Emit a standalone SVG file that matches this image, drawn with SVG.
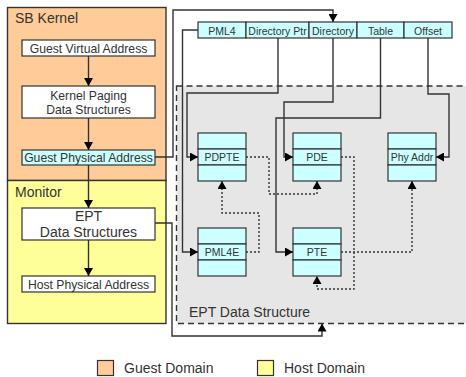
<svg xmlns="http://www.w3.org/2000/svg" width="466" height="377" viewBox="0 0 466 377">
<defs>
<style>
text{font-family:"Liberation Sans",Arial,sans-serif;fill:#333;}
.t12{font-size:12.2px;}
.t14{font-size:14px;}
.t10{font-size:10.5px;}
.mid{text-anchor:middle;}
.box{fill:#fff;stroke:#333;stroke-width:1.2;}
.cy{fill:#ccffff;stroke:#333;stroke-width:1.2;}
.ln{fill:none;stroke:#333;stroke-width:1.4;}
.dot{fill:none;stroke:#333;stroke-width:1.4;stroke-dasharray:2,2;}
</style>
<marker id="ah" markerUnits="userSpaceOnUse" markerWidth="9" markerHeight="9" refX="8" refY="4.5" orient="auto">
<path d="M0,0 L8,4.5 L0,9 z" fill="#000"/>
</marker>
</defs>

<g id="ept-region">
<rect x="176.5" y="86" width="300" height="237.5" fill="#e6e6e6" stroke="#333" stroke-width="1.4" stroke-dasharray="6,4"/>
<text class="t14" x="189" y="317">EPT Data Structure</text>
</g>

<g id="sb-kernel">
<rect x="7.5" y="7.5" width="158.5" height="173" fill="#ffcc99" stroke="#333" stroke-width="1.4"/>
<text class="t14" x="15" y="22.5">SB Kernel</text>
</g>
<g id="monitor">
<rect x="7.5" y="180.5" width="158.5" height="143" fill="#ffff99" stroke="#333" stroke-width="1.4"/>
<text class="t14" x="15" y="197">Monitor</text>
</g>

<g id="gva">
<rect class="box" x="22" y="40" width="133" height="16"/>
<text class="t12 mid" x="88.5" y="52.5">Guest Virtual Address</text>
</g>
<g id="kpds">
<rect class="box" x="22" y="86" width="133" height="32"/>
<text class="t12 mid" x="88.5" y="100">Kernel Paging</text>
<text class="t12 mid" x="88.5" y="113.5">Data Structures</text>
</g>
<g id="gpa">
<rect class="cy" x="22" y="150" width="133" height="15"/>
<text class="t12 mid" x="88.5" y="161.8">Guest Physical Address</text>
</g>
<g id="eptds">
<rect class="box" x="22" y="208" width="133" height="32"/>
<text class="t14 mid" x="88.5" y="221">EPT</text>
<text class="t14 mid" x="88.5" y="236.5">Data Structures</text>
</g>
<g id="hpa">
<rect class="box" x="22" y="276" width="133" height="16"/>
<text class="t12 mid" x="88.5" y="288.5">Host Physical Address</text>
</g>

<g id="address-bar">
<rect class="cy" x="198" y="22" width="48" height="16"/>
<text class="t10 mid" x="222" y="34.5">PML4</text>
<rect class="cy" x="246" y="22" width="63" height="16"/>
<text class="t10 mid" x="277.5" y="34.5">Directory Ptr</text>
<rect class="cy" x="309" y="22" width="48" height="16"/>
<text class="t10 mid" x="333" y="34.5">Directory</text>
<rect class="cy" x="357" y="22" width="47" height="16"/>
<text class="t10 mid" x="380.5" y="34.5">Table</text>
<rect class="cy" x="404" y="22" width="48" height="16"/>
<text class="t10 mid" x="428" y="34.5">Offset</text>
</g>

<g id="pdpte">
<rect class="cy" x="198" y="133" width="48" height="16"/>
<rect class="cy" x="198" y="149" width="48" height="16"/>
<rect class="cy" x="198" y="165" width="48" height="16"/>
<text class="t10 mid" x="222" y="161">PDPTE</text>
</g>
<g id="pde">
<rect class="cy" x="293" y="133" width="48" height="16"/>
<rect class="cy" x="293" y="149" width="48" height="16"/>
<rect class="cy" x="293" y="165" width="48" height="16"/>
<text class="t10 mid" x="317" y="161">PDE</text>
</g>
<g id="phyaddr">
<rect class="cy" x="388" y="133" width="48" height="16"/>
<rect class="cy" x="388" y="149" width="48" height="16"/>
<rect class="cy" x="388" y="165" width="48" height="16"/>
<text class="t10 mid" x="412" y="161">Phy Addr</text>
</g>
<g id="pml4e">
<rect class="cy" x="198" y="228" width="48" height="16"/>
<rect class="cy" x="198" y="244" width="48" height="16"/>
<rect class="cy" x="198" y="260" width="48" height="16"/>
<text class="t10 mid" x="222" y="256">PML4E</text>
</g>
<g id="pte">
<rect class="cy" x="293" y="228" width="48" height="16"/>
<rect class="cy" x="293" y="244" width="48" height="16"/>
<rect class="cy" x="293" y="260" width="48" height="16"/>
<text class="t10 mid" x="317" y="256">PTE</text>
</g>

<g id="connectors">
<path class="ln" d="M88.5,56 V86" marker-end="url(#ah)"/>
<path class="ln" d="M88.5,118 V150" marker-end="url(#ah)"/>
<path class="ln" d="M88.5,165 V208" marker-end="url(#ah)"/>
<path class="ln" d="M88.5,240 V276" marker-end="url(#ah)"/>
<path class="ln" d="M155,157 H173 V10 H333 V22" marker-end="url(#ah)"/>
<path class="ln" d="M155,223 H172 V336 H322 V323.5" marker-end="url(#ah)"/>
<path class="ln" d="M198,30 H182.5 V252 H198" marker-end="url(#ah)"/>
<path class="ln" d="M278,38 V93 H187 V157 H198" marker-end="url(#ah)"/>
<path class="ln" d="M333,38 V102 H284 V157 H293" marker-end="url(#ah)"/>
<path class="ln" d="M380.5,38 V118 H276 V252 H293" marker-end="url(#ah)"/>
<path class="ln" d="M428,38 V94 H449 V157 H436" marker-end="url(#ah)"/>
<path class="dot" d="M246,157 H269 V194 H317 V181" marker-end="url(#ah)"/>
<path class="dot" d="M246,252 H259 V213 H222 V181" marker-end="url(#ah)"/>
<path class="dot" d="M341,157 H354 V289 H317 V276" marker-end="url(#ah)"/>
<path class="dot" d="M341,252 H412 V181" marker-end="url(#ah)"/>
</g>

<g id="legend">
<rect x="97.5" y="360.5" width="16" height="15" fill="#ffcc99" stroke="#333" stroke-width="1.2"/>
<text class="t14" x="124" y="373">Guest Domain</text>
<rect x="257.5" y="360.5" width="16" height="15" fill="#ffff99" stroke="#333" stroke-width="1.2"/>
<text class="t14" x="284" y="373">Host Domain</text>
</g>
</svg>
